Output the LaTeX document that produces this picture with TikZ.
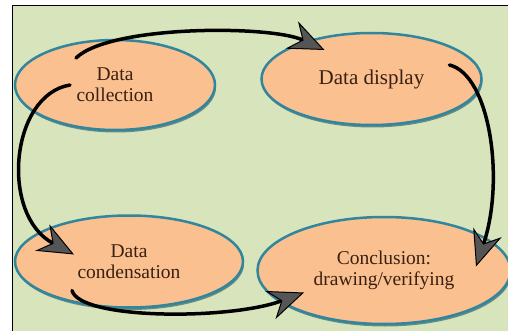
\documentclass[tikz,border=0pt]{standalone}
\usepackage{fontspec}
\setmainfont{Liberation Serif}
\usepackage{tikz}
\usetikzlibrary{positioning,shapes.geometric,arrows.meta,shadows}
\definecolor{bggreen}{HTML}{D8E4BC}
\definecolor{peach}{HTML}{FAC090}
\definecolor{ringblue}{HTML}{31859C}
\definecolor{textbrown}{HTML}{3A2010}
\definecolor{headgrey}{HTML}{555555}

\begin{document}
\begin{tikzpicture}[x=1pt, y=-1pt,
    phase/.style={ellipse, draw=ringblue, line width=2.5pt, fill=peach, inner sep=0pt,
      align=center, text=textbrown, font=\fontsize{19.5}{21}\selectfont,
      drop shadow={shadow xshift=1pt, shadow yshift=-2.5pt, fill=ringblue!60!black, opacity=.6}},
    cycarrow/.style={line width=3.5pt, line cap=round,
      -{Stealth[length=36pt, width=30pt, line width=1pt, fill=headgrey]}}]
    \useasboundingbox (0,0) rectangle (508,331);
    \fill [bggreen] (12,6) rectangle (508,331);
    \draw [line width=1pt] (12,331) -- (12,6) -- (508,6);

    \node [phase, minimum width=200pt, minimum height=90pt] (col) at (115,85) {Data\\collection};
    \node [phase, minimum width=220pt, minimum height=92pt, right=44pt of col, yshift=6pt,
      font=\fontsize{21}{23}\selectfont] (disp) {Data display};
    \node [phase, minimum width=228pt, minimum height=92pt, below=83pt of col, xshift=14pt] (cond) {Data\\condensation};
    \node [phase, minimum width=253pt, minimum height=107pt, right=12pt of cond, yshift=-9pt] (concl) {Conclusion:\\drawing/verifying};

    \draw [cycarrow] ([shift={(-39,-27)}]col.center) .. controls (110,25) and (270,25) .. ([shift={(-47,-29)}]disp.center);
    \draw [cycarrow] ([shift={(78,-14)}]disp.center) .. controls (490,75) and (505,180) .. ([shift={(92,-4)}]concl.center);
    \draw [cycarrow] ([shift={(-45,0)}]col.center) .. controls (10,95) and (0,215) .. ([shift={(-55,-7)}]cond.center);
    \draw [cycarrow] ([shift={(-57,29)}]cond.center) .. controls (80,320) and (230,320) .. ([shift={(-80,22)}]concl.center);
\end{tikzpicture}
\end{document}
